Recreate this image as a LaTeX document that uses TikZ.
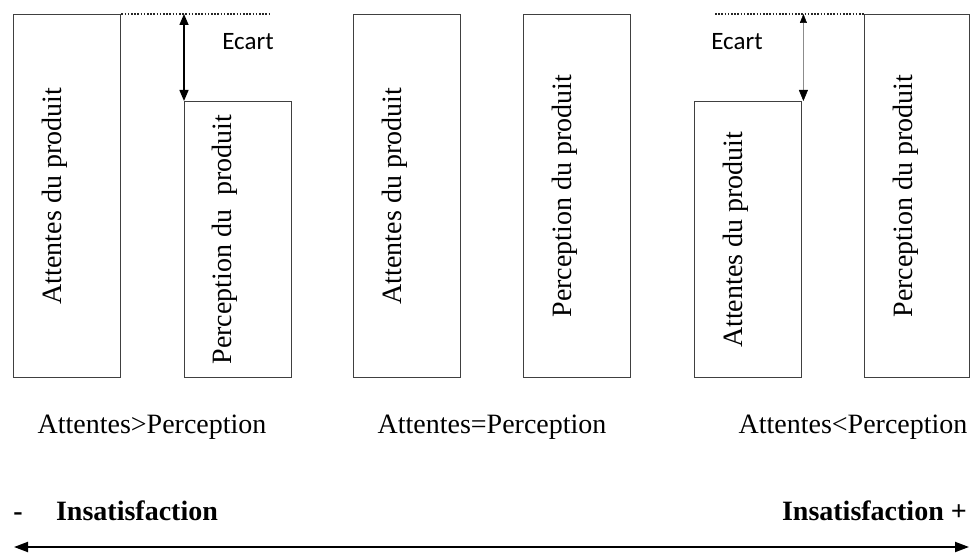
\documentclass[tikz,border=0pt]{standalone}
\usepackage{fontspec}
\setmainfont{Liberation Serif}
\newfontfamily\ecartfont{Carlito}
\usetikzlibrary{arrows.meta}
\tikzset{
  box/.style={draw=black!75, line width=1.4pt, rectangle, anchor=north west, inner sep=0pt, minimum width=107pt},
  vlabel/.style={rotate=90, anchor=base, inner sep=0pt, font=\fontsize{28}{30}\selectfont},
  clabel/.style={inner sep=0pt, font=\fontsize{28}{30}\selectfont},
  blabel/.style={inner sep=0pt, anchor=base, font=\fontsize{28}{30}\selectfont\bfseries},
  ecart/.style={inner sep=0pt, font=\ecartfont\fontsize{25}{27}\selectfont},
  dots/.style={line width=2pt, dash pattern=on 1.6pt off 1.6pt, black!85},
}
\begin{document}
\begin{tikzpicture}[x=1pt,y=-1pt]
\useasboundingbox (0,0) rectangle (971,553);
% boxes
\node[box, minimum height=363pt] (b1) at (13,14) {};
\node[box, minimum height=276pt] (b2) at (184,101) {};
\node[box, minimum height=363pt] (b3) at (353,14) {};
\node[box, minimum height=363pt] (b4) at (523,14) {};
\node[box, minimum height=276pt] (b5) at (694,101) {};
\node[box, minimum height=363pt, minimum width=105pt] (b6) at (864,14) {};
% vertical labels
\node[vlabel] (t1) at ([xshift=48pt]b1.west) {Attentes du produit};
\node[vlabel] (t2) at ([xshift=47pt]b2.west) {Perception du\ \ produit};
\node[vlabel] (t3) at ([xshift=48pt]b3.west) {Attentes du produit};
\node[vlabel] (t4) at ([xshift=48pt]b4.west) {Perception du produit};
\node[vlabel] (t5) at ([xshift=48pt]b5.west) {Attentes du produit};
\node[vlabel] (t6) at ([xshift=48pt]b6.west) {Perception du produit};
% ecart left
\coordinate (d1) at (270,14);
\draw[dots] (b1.north east) -- (d1);
\coordinate (a1) at (b2.north west |- b1.north);
\draw[line width=1.5pt, {Triangle[length=11pt,width=9pt]}-{Triangle[length=11pt,width=9pt]}] (a1) -- (b2.north west);
\node[ecart] (e1) at (248,42) {Ecart};
% ecart right
\coordinate (d2) at (715,14);
\draw[dots] (d2) -- (b6.north west);
\coordinate (a2) at ([xshift=1pt]b5.north east |- b6.north);
\coordinate (a2b) at ([xshift=1pt]b5.north east);
\draw[line width=0.5pt, black!45, {Triangle[length=9pt,width=7pt,fill=black,color=black]}-{Triangle[length=11pt,width=9pt,fill=black,color=black]}] (a2) -- (a2b);
\node[ecart] (e2) at (737,42) {Ecart};
% captions
\node[clabel] (c1) at (152,427) {Attentes>Perception};
\node[clabel] (c2) at (492,427) {Attentes=Perception};
\node[clabel] (c3) at (853,427) {Attentes<Perception};
% insatisfaction
\node[blabel] (m) at (18,520) {-};
\node[blabel] (i1) at (137,520) {Insatisfaction};
\node[blabel, anchor=base east] (i2) at (967,520) {Insatisfaction +};
\coordinate (l) at (14,547);
\coordinate (r) at (969,547);
\draw[line width=2pt, {Triangle[length=14pt,width=10pt]}-{Triangle[length=14pt,width=10pt]}] (l) -- (r);
\end{tikzpicture}
\end{document}
